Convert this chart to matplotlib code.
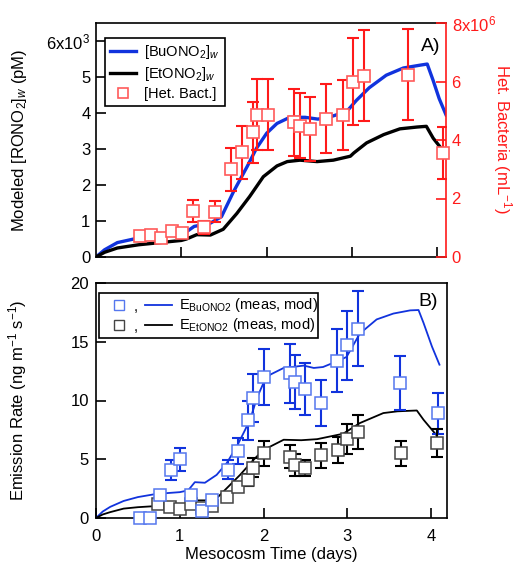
import matplotlib
matplotlib.use('Agg')
import matplotlib.pyplot as plt
from matplotlib.lines import Line2D
from matplotlib.patches import Rectangle

plt.rcParams['font.family'] = ['Liberation Sans', 'DejaVu Sans']
plt.rcParams['mathtext.fontset'] = 'custom'
plt.rcParams['mathtext.rm'] = 'Liberation Sans'
plt.rcParams['mathtext.it'] = 'Liberation Sans:italic'
plt.rcParams['mathtext.default'] = 'regular'

# ---------------- Panel A data ----------------
modA_t = [0, 0.1, 0.25, 0.5, 0.75, 1.0, 1.06, 1.15, 1.34, 1.47, 1.61, 1.77, 1.88, 2.0,
          2.12, 2.27, 2.45, 2.6, 2.78, 2.94, 3.05, 3.2, 3.4, 3.6, 3.8, 3.88, 3.95, 4.02, 4.1]
bu_modA = [0, 0.2, 0.4, 0.53, 0.6, 0.66, 0.7, 0.85, 0.94, 1.12, 1.81, 2.51, 3.02, 3.44,
           3.71, 3.88, 3.88, 3.83, 3.92, 4.05, 4.35, 4.7, 5.05, 5.25, 5.33, 5.36, 4.9, 4.4, 3.95]
etA_t = [0, 0.1, 0.25, 0.5, 0.75, 1.0, 1.06, 1.18, 1.34, 1.49, 1.65, 1.8, 1.96, 2.12,
         2.24, 2.39, 2.59, 2.78, 2.98, 3.02, 3.17, 3.37, 3.56, 3.76, 3.87, 3.95, 4.07]
et_modA = [0, 0.13, 0.25, 0.34, 0.4, 0.46, 0.5, 0.62, 0.61, 0.77, 1.21, 1.68, 2.23, 2.53,
           2.65, 2.69, 2.65, 2.69, 2.8, 2.89, 3.17, 3.4, 3.56, 3.61, 3.63, 3.3, 2.94]

bact_t = [0.51, 0.64, 0.76, 0.89, 1.01, 1.14, 1.26, 1.39, 1.58, 1.71, 1.84, 1.89, 2.01,
          2.32, 2.39, 2.51, 2.70, 2.89, 3.01, 3.14, 3.65, 4.07]
bact = [0.73, 0.76, 0.64, 0.89, 0.82, 1.57, 1.01, 1.55, 3.0, 3.58, 4.26, 4.87, 4.87,
        4.60, 4.49, 4.38, 4.73, 4.85, 6.0, 6.2, 6.23, 3.56]
bact_err = [0.08, 0.08, 0.06, 0.12, 0.1, 0.38, 0.22, 0.36, 0.74, 0.9, 1.05, 1.2, 1.2,
            1.15, 1.12, 1.1, 1.17, 1.2, 1.5, 1.55, 1.55, 0.9]

# ---------------- Panel B data ----------------
bu_meas_t = [0.52, 0.64, 0.76, 0.89, 1.0, 1.13, 1.26, 1.39, 1.57, 1.70, 1.82, 1.88, 2.0,
             2.32, 2.38, 2.50, 2.69, 2.88, 3.0, 3.13, 3.63, 4.08]
bu_meas = [0.0, 0.0, 2.0, 4.1, 5.0, 2.0, 0.6, 1.5, 4.1, 5.7, 8.3, 10.2, 12.0, 12.3, 11.6,
           10.95, 9.76, 13.4, 14.7, 16.1, 11.5, 8.9]
bu_err = [0.2, 0.2, 0.3, 0.85, 1.0, 0.3, 0.2, 0.3, 0.8, 1.1, 1.7, 2.05, 2.4, 2.5, 2.3,
          2.2, 1.97, 2.7, 2.95, 3.2, 2.3, 1.77]

et_meas_t = [0.74, 0.88, 1.0, 1.14, 1.27, 1.39, 1.56, 1.69, 1.82, 1.88, 2.0, 2.32, 2.38,
             2.50, 2.69, 2.89, 3.0, 3.13, 3.64, 4.07]
et_meas = [1.19, 0.97, 0.80, 1.16, 0.85, 1.02, 1.76, 2.62, 3.24, 4.29, 5.5, 5.23, 4.52,
           4.24, 5.32, 5.78, 6.71, 7.28, 5.52, 6.37]
et_err = [0.2, 0.2, 0.2, 0.2, 0.2, 0.2, 0.3, 0.4, 0.5, 0.8, 1.05, 1.0, 0.93, 0.7, 1.06,
          1.1, 1.3, 1.45, 1.07, 1.2]

buB_t = [0, 0.08, 0.17, 0.33, 0.5, 0.68, 0.85, 1.0, 1.1, 1.18, 1.3, 1.44, 1.56, 1.68,
         1.78, 1.85, 1.92, 2.0, 2.08, 2.24, 2.48, 2.6, 2.71, 2.83, 2.99, 3.15, 3.35, 3.55,
         3.75, 3.85, 3.91, 4.01, 4.1]
bu_modB = [0, 0.55, 0.95, 1.45, 1.78, 2.0, 2.12, 2.2, 2.35, 3.05, 3.0, 3.67, 4.67, 6.08,
           7.5, 8.6, 10.2, 11.5, 12.2, 12.77, 12.97, 12.77, 12.85, 13.2, 13.7, 15.7, 16.9,
           17.4, 17.67, 17.7, 16.6, 14.6, 13.05]
etB_t = [0, 0.08, 0.17, 0.33, 0.5, 0.68, 0.85, 1.0, 1.1, 1.18, 1.3, 1.4, 1.46, 1.56, 1.72,
         1.88, 2.0, 2.08, 2.24, 2.45, 2.64, 2.95, 3.15, 3.43, 3.6, 3.83, 3.91, 4.07]
et_modB = [0, 0.3, 0.5, 0.8, 0.92, 1.0, 1.05, 1.08, 1.12, 1.5, 1.5, 1.5, 1.82, 2.53, 3.67,
           4.95, 5.8, 6.08, 6.66, 6.62, 6.71, 7.17, 8.08, 8.93, 9.08, 9.15, 8.36, 7.0]

yA_ticks = [0, 1000, 2000, 3000, 4000, 5000, 6000]
yA_labels = ['0', '1', '2', '3', '4', '5', r'6x10$^3$']
yR_ticks = [0, 2e6, 4e6, 6e6, 8e6]
yR_labels = ['0', '2', '4', '6', r'8x10$^6$']

BLUE = '#1133dd'
BLUE_SQ = '#5577ee'
RED = '#ff1a1a'
RED_SQ = '#ff5a5a'
GREY_SQ = '#444444'

W, H = 521, 563
fig = plt.figure(figsize=(W / 100, H / 100), dpi=100)

FS = 12.0
LFS = 10.5
MS = 8.5
# ---------------- Panel A ----------------
axA = fig.add_axes([96 / W, 1 - 257 / H, 350 / W, 234 / H])
axA.plot(modA_t, [v * 1000 for v in bu_modA], color=BLUE, lw=2.4, zorder=2)
axA.plot(etA_t, [v * 1000 for v in et_modA], color='black', lw=2.4, zorder=2)
axA.set_xlim(0, 4.10)
axA.set_ylim(0, 6500)
axA.set_yticks(yA_ticks)
axA.set_yticklabels(yA_labels)
axA.set_xticks([1, 2, 3, 4])
axA.tick_params(axis='x', direction='in', length=7, width=1.2, labelbottom=False)
axA.tick_params(axis='y', direction='in', length=7, width=1.2, labelsize=FS, pad=4)
for s in ['left', 'bottom', 'top']:
    axA.spines[s].set_linewidth(1.2)
axA.spines['right'].set_visible(False)
axA.set_ylabel(r'Modeled [RONO$_2$]$_{\mathit{w}}$ (pM)', fontsize=FS)
axA.yaxis.set_label_coords(-0.19, 0.5)

axR = axA.twinx()
axR.errorbar(bact_t, [v * 1e6 for v in bact], yerr=[e * 1e6 for e in bact_err],
             fmt='none', ecolor=RED, elinewidth=1.5, capsize=4, capthick=1.5, zorder=3)
axR.plot(bact_t, [v * 1e6 for v in bact], ls='none', marker='s', ms=MS,
         mfc='white', mec=RED_SQ, mew=1.2, zorder=4, clip_on=False)
axR.set_ylim(0, 8e6)
axR.set_yticks(yR_ticks)
axR.set_yticklabels(yR_labels)
axR.tick_params(axis='y', direction='in', length=7, width=1.2, colors=RED,
                labelsize=FS, pad=4)
for s in ['left', 'bottom', 'top']:
    axR.spines[s].set_visible(False)
axR.spines['right'].set_color(RED)
axR.spines['right'].set_linewidth(1.2)
axR.set_ylabel(r'Het. Bacteria (mL$^{-1}$)', color=RED, fontsize=FS, rotation=-90)
axR.yaxis.set_label_coords(1.195, 0.505)

handles = [Line2D([], [], color=BLUE, lw=2.4),
           Line2D([], [], color='black', lw=2.4),
           Line2D([], [], ls='none', marker='s', ms=7.5, mfc='white', mec=RED_SQ, mew=1.2)]
labels = [r'[BuONO$_2$]$_{\mathit{w}}$', r'[EtONO$_2$]$_{\mathit{w}}$', '[Het. Bact.]']
leg = axR.legend(handles, labels, loc='upper left', bbox_to_anchor=(0.026, 0.936),
                 frameon=True, fancybox=False, edgecolor='black', borderaxespad=0,
                 handlelength=1.8, handletextpad=0.5, borderpad=0.35, labelspacing=0.28,
                 fontsize=LFS, framealpha=1)
leg.get_frame().set_linewidth(1.2)
axA.text(0.955, 0.90, 'A)', transform=axA.transAxes, fontsize=14, ha='center',
         va='center')

# ---------------- Panel B ----------------
axB = fig.add_axes([96 / W, 1 - 518 / H, 351 / W, 235 / H])
axB.plot(buB_t, bu_modB, color=BLUE, lw=1.3, zorder=2)
axB.plot(etB_t, et_modB, color='black', lw=1.3, zorder=2)
axB.errorbar(bu_meas_t, bu_meas, yerr=bu_err, fmt='none', ecolor=BLUE, elinewidth=1.5,
             capsize=4, capthick=1.5, zorder=3)
axB.errorbar(et_meas_t, et_meas, yerr=et_err, fmt='none', ecolor='black', elinewidth=1.5,
             capsize=4, capthick=1.5, zorder=3)
axB.plot(et_meas_t, et_meas, ls='none', marker='s', ms=MS, mfc='white', mec=GREY_SQ,
         mew=1.1, zorder=4, clip_on=False)
axB.plot(bu_meas_t, bu_meas, ls='none', marker='s', ms=MS, mfc='white', mec=BLUE_SQ,
         mew=1.1, zorder=5, clip_on=False)
axB.set_xlim(0, 4.19)
axB.set_ylim(0, 20)
axB.set_xticks([0, 1, 2, 3, 4])
axB.set_yticks([0, 5, 10, 15, 20])
axB.tick_params(direction='in', length=7, width=1.2, labelsize=FS, pad=5)
axB.tick_params(axis='x', pad=8)
for s in axB.spines.values():
    s.set_linewidth(1.2)
axB.set_xlabel('Mesocosm Time (days)', fontsize=FS, labelpad=2)
axB.set_ylabel(r'Emission Rate (ng m$^{-1}$ s$^{-1}$)', fontsize=FS)
axB.yaxis.set_label_coords(-0.19, 0.5)
axB.text(0.946, 0.92, 'B)', transform=axB.transAxes, fontsize=14, ha='center',
         va='center')

# manual legend for panel B
tr = axB.transAxes
axB.add_patch(Rectangle((0.009, 0.766), 0.623, 0.191, transform=tr, fill=True,
                        facecolor='white', edgecolor='black', lw=1.2, zorder=6))
rows = [(0.906, BLUE_SQ, BLUE, r'E$_{\mathrm{BuONO2}}$ (meas, mod)'),
        (0.821, GREY_SQ, 'black', r'E$_{\mathrm{EtONO2}}$ (meas, mod)')]
for yy, sqc, lc, lab in rows:
    axB.plot([0.066], [yy], transform=tr, ls='none', marker='s', ms=7.5, mfc='white',
             mec=sqc, mew=1.0, zorder=7, clip_on=False)
    axB.text(0.112, yy - 0.01, ',', transform=tr, fontsize=LFS, ha='center',
             va='center', zorder=7)
    axB.plot([0.140, 0.216], [yy, yy], transform=tr, color=lc, lw=1.3, zorder=7,
             clip_on=False)
    axB.text(0.237, yy, lab, transform=tr, fontsize=LFS, ha='left', va='center',
             zorder=7)

fig.savefig('out.png', dpi=100)
